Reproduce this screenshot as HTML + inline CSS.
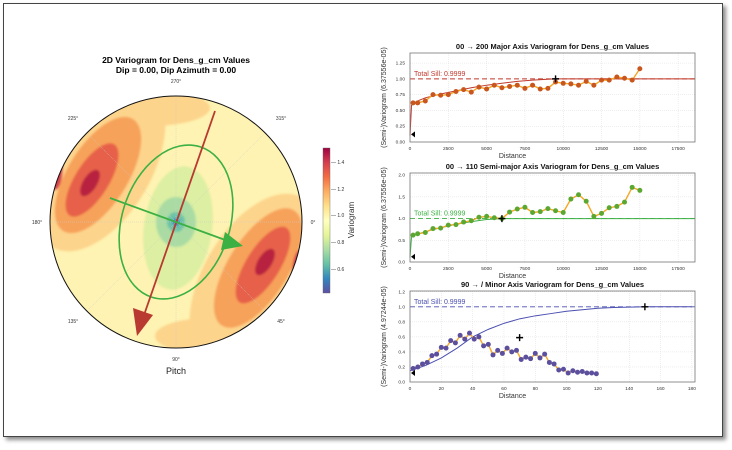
<!DOCTYPE html>
<html><head><meta charset="utf-8"><style>
html,body{margin:0;padding:0;background:#fff;}
body{width:732px;height:450px;overflow:hidden;position:relative;font-family:"Liberation Sans",sans-serif;}
#frame{position:absolute;left:3px;top:3px;width:718px;height:432px;border:1px solid #444;box-shadow:3px 3px 4px rgba(0,0,0,0.45);background:#fff;}
svg{position:absolute;left:0;top:0;}
text{font-family:"Liberation Sans",sans-serif;}
</style></head><body>
<div id="frame"></div>
<svg id="svg" width="732" height="450">
<defs>
<clipPath id="pc"><circle cx="176" cy="222" r="126"/></clipPath>
<linearGradient id="cb" x1="0" y1="1" x2="0" y2="0">
<stop offset="0" stop-color="#5e4fa2"/><stop offset="0.1" stop-color="#3288bd"/><stop offset="0.2" stop-color="#66c2a5"/><stop offset="0.3" stop-color="#abdda4"/><stop offset="0.4" stop-color="#e6f598"/><stop offset="0.5" stop-color="#ffffbf"/><stop offset="0.6" stop-color="#fee08b"/><stop offset="0.7" stop-color="#fdae61"/><stop offset="0.8" stop-color="#f46d43"/><stop offset="0.9" stop-color="#d53e4f"/><stop offset="1" stop-color="#9e0142"/>
</linearGradient>
<filter id="bl"><feGaussianBlur stdDeviation="1"/></filter>
</defs>
<g>
<text x="176" y="63" font-size="8.5" font-weight="bold" text-anchor="middle">2D Variogram for Dens_g_cm Values</text>
<text x="176" y="73" font-size="8.5" font-weight="bold" text-anchor="middle">Dip = 0.00, Dip Azimuth = 0.00</text>
<g clip-path="url(#pc)">
<rect x="40" y="90" width="280" height="270" fill="#fef3b2"/>
<g filter="url(#bl)">
<ellipse cx="100" cy="165" rx="52" ry="95" transform="rotate(30 100 165)" fill="#fdd48c"/>
<ellipse cx="255" cy="280" rx="52" ry="95" transform="rotate(30 255 280)" fill="#fdd48c"/>
<ellipse cx="150" cy="108" rx="60" ry="18" fill="#fdd48c"/>
<ellipse cx="210" cy="336" rx="55" ry="18" fill="#fdd48c"/>
<ellipse cx="98" cy="175" rx="30" ry="66" transform="rotate(32 98 175)" fill="#f7a25a"/>
<ellipse cx="258" cy="268" rx="30" ry="68" transform="rotate(32 258 268)" fill="#f7a25a"/>
<ellipse cx="92" cy="180" rx="17" ry="42" transform="rotate(32 92 180)" fill="#e7604a"/>
<ellipse cx="263" cy="265" rx="17" ry="44" transform="rotate(32 263 265)" fill="#e7604a"/>
<ellipse cx="90" cy="183" rx="7" ry="15" transform="rotate(32 90 183)" fill="#b8233f"/>
<ellipse cx="265" cy="262" rx="7" ry="15" transform="rotate(32 265 262)" fill="#b8233f"/>
<ellipse cx="55" cy="165" rx="8" ry="25" fill="#d5404d"/>
<ellipse cx="300" cy="275" rx="8" ry="25" fill="#d5404d"/>
<ellipse cx="178" cy="228" rx="34" ry="62" transform="rotate(8 178 228)" fill="#dcefa2"/>
<ellipse cx="176" cy="222" rx="20" ry="25" fill="#a9dba3"/>
<ellipse cx="176" cy="222" rx="9" ry="10" fill="#6cc3a6"/>
<ellipse cx="176" cy="222" rx="4" ry="4" fill="#3f8fc0"/>
</g>
</g>
<g stroke="#ccc" stroke-width="0.5" stroke-dasharray="1,1" fill="none">
<line x1="50" y1="222" x2="302" y2="222"/><line x1="176" y1="96" x2="176" y2="348"/>
<line x1="87" y1="133" x2="265" y2="311"/><line x1="265" y1="133" x2="87" y2="311"/>
</g>
<circle cx="176" cy="222" r="126" fill="none" stroke="#111" stroke-width="1"/>
<ellipse cx="176" cy="222" rx="54" ry="79" transform="rotate(18 176 222)" fill="none" stroke="#3cb043" stroke-width="1.6"/>
<g>
<line x1="215" y1="111" x2="143" y2="318" stroke="#b83a30" stroke-width="1.8"/>
<polygon points="137,336 133,308 153,315" fill="#b83a30"/>
</g>
<g>
<line x1="110" y1="198" x2="228" y2="241" stroke="#3cb043" stroke-width="1.8"/>
<polygon points="243,246 225,232 221,250" fill="#3cb043"/>
</g>
<g font-size="5" fill="#333" text-anchor="middle">
<text x="176" y="83">270°</text><text x="281" y="120">315°</text><text x="313" y="224">0°</text><text x="281" y="323">45°</text>
<text x="176" y="361">90°</text><text x="73" y="323">135°</text><text x="37" y="224">180°</text><text x="73" y="120">225°</text>
</g>
<text x="176" y="374" font-size="9" text-anchor="middle" fill="#222">Pitch</text>
<g>
<rect x="323" y="148" width="7" height="145" fill="url(#cb)" stroke="#666" stroke-width="0.4"/>
<g font-size="5" fill="#333">
<text x="331" y="164">— 1.4</text><text x="331" y="191">— 1.2</text><text x="331" y="217">— 1.0</text><text x="331" y="244">— 0.8</text><text x="331" y="271">— 0.6</text>
</g>
<text x="354" y="220" font-size="8" fill="#333" text-anchor="middle" transform="rotate(-90 354 220)">Variogram</text>
</g>
</g>
<g id="charts"></g>
</svg>
<script>
// ---- Major axis chart data ----
const majDist=[200,500,1000,1500,2000,2500,3000,3500,4000,4500,5000,5500,6000,6500,7000,7500,8000,8500,9000,9500,10000,10500,11000,11500,12000,12500,13000,13500,14000,14500,15000];
const majVal=[0.62,0.62,0.65,0.75,0.74,0.75,0.8,0.83,0.79,0.87,0.84,0.9,0.86,0.88,0.9,0.85,0.9,0.84,0.85,0.95,0.93,0.92,0.9,0.96,0.9,0.98,0.98,1.03,1.01,0.98,1.16];
const majModelDist=[0,100,300,600,1000,2000,3000,4000,5000,6000,7000,8000,9000,9500,12000,18600];
const majModelVal=[0.1,0.58,0.62,0.66,0.7,0.76,0.81,0.86,0.9,0.93,0.96,0.98,0.995,1.0,1.0,1.0];
const majXTicks=[0,2500,5000,7500,10000,12500,15000,17500];
const majYTicks=[0,0.25,0.5,0.75,1.0,1.25];
// ---- Semi-major chart data ----
const semDist=[200,500,1000,1500,2000,2500,3000,3500,4000,4500,5000,5500,6000,6500,7000,7500,8000,8500,9000,9500,10000,10500,11000,11500,12000,12500,13000,13500,14000,14500,15000];
const semVal=[0.62,0.65,0.68,0.77,0.78,0.85,0.86,0.92,0.95,1.03,1.05,1.02,1.0,1.15,1.22,1.26,1.14,1.16,1.23,1.18,1.14,1.45,1.55,1.4,1.05,1.12,1.25,1.28,1.38,1.72,1.65];
const semModelDist=[0,100,300,1000,2000,3000,4000,5000,6000,18600];
const semModelVal=[0.1,0.58,0.62,0.7,0.79,0.87,0.93,0.98,1.0,1.0];
const semXTicks=[0,2500,5000,7500,10000,12500,15000,17500];
const semYTicks=[0,0.5,1.0,1.5,2.0];
// ---- Minor chart data ----
const minDist=[2,5,8,11,14,17,20,23,26,29,32,35,38,41,44,47,50,53,56,59,62,65,68,71,74,77,80,83,86,89,92,95,98,101,104,107,110,113,116,119];
const minVal=[0.18,0.2,0.24,0.26,0.35,0.37,0.46,0.45,0.55,0.52,0.62,0.57,0.65,0.57,0.6,0.48,0.5,0.36,0.42,0.38,0.45,0.4,0.42,0.3,0.33,0.31,0.38,0.32,0.37,0.26,0.24,0.16,0.17,0.12,0.15,0.13,0.14,0.12,0.12,0.11];
const minModelDist=[0,10,20,30,40,50,60,70,80,90,100,110,120,130,140,150,180];
const minModelVal=[0.15,0.22,0.32,0.45,0.6,0.7,0.78,0.84,0.88,0.91,0.94,0.96,0.98,0.99,0.995,1.0,1.0];
const minXTicks=[0,20,40,60,80,100,120,140,160,180];
const minYTicks=[0,0.2,0.4,0.6,0.8,1.0,1.2];

const NS='http://www.w3.org/2000/svg';
const root=document.getElementById('charts');
function mk(tag,attrs,parent){const e=document.createElementNS(NS,tag);for(const k in attrs)e.setAttribute(k,attrs[k]);(parent||root).appendChild(e);return e;}

function chart(c){
  const g=mk('g',{});
  
  
  const sx=v=>c.x0+(v-c.xmin)/(c.xmax-c.xmin)*(c.x1-c.x0);
  const sy=v=>c.y1-(v-c.ymin)/(c.ymax-c.ymin)*(c.y1-c.y0);
  mk('rect',{x:c.x0,y:c.y0,width:c.x1-c.x0,height:c.y1-c.y0,fill:'#fff'},g);
  c.xt.forEach(t=>{
    mk('line',{x1:sx(t),x2:sx(t),y1:c.y0,y2:c.y1,stroke:'#ddd','stroke-width':0.5,'stroke-dasharray':'1,1'},g);
    const tx=mk('text',{x:sx(t),y:c.y1+8,'font-size':4.8,'text-anchor':'middle',fill:'#333'},g);tx.textContent=t;
    
    
  });
  c.yt.forEach(t=>{
    mk('line',{x1:c.x0,x2:c.x1,y1:sy(t),y2:sy(t),stroke:'#ddd','stroke-width':0.5,'stroke-dasharray':'1,1'},g);
    const ty=mk('text',{x:c.x0-5,y:sy(t)+1.5,'font-size':4.8,'text-anchor':'end',fill:'#333'},g);ty.textContent=t.toFixed(c.dec);
    
    
  });
  const sill=mk('line',{x1:c.x0,x2:c.x1,y1:sy(1),y2:sy(1),stroke:c.mc,'stroke-width':0.9,'stroke-dasharray':'5,3'},g);
  
  
  const st=mk('text',{x:c.x0+4,y:sy(1)-3,'font-size':7,fill:c.mc},g);st.textContent='Total Sill: 0.9999';
  
  
  const mp=mk('polyline',{points:c.md.map((d,i)=>sx(d)+','+sy(c.mv[i])).join(' '),fill:'none',stroke:c.mc,'stroke-width':1},g);
  
  
  const ep=mk('polyline',{points:c.d.map((d,i)=>sx(d)+','+sy(c.v[i])).join(' '),fill:'none',stroke:'#f5a623','stroke-width':1.4},g);
  
  
  c.d.forEach((d,i)=>{
    const p=mk('circle',{cx:sx(d),cy:sy(c.v[i]),r:2.5,fill:c.pc},g);
    
    
  });
  c.cross.forEach(cr=>{
    const x=sx(cr[0]),y=sy(cr[1]);
    const cp=mk('path',{d:`M${x-3.5},${y}H${x+3.5}M${x},${y-3.5}V${y+3.5}`,stroke:'#000','stroke-width':1.4},g);
    
    
  });
  const tri=mk('polygon',{points:`${c.x0+1},${sy(0.12)} ${c.x0+5},${sy(0.12)-3} ${c.x0+5},${sy(0.12)+3}`,fill:'#000'},g);
  
  
  mk('rect',{x:c.x0,y:c.y0,width:c.x1-c.x0,height:c.y1-c.y0,fill:'none',stroke:'#777','stroke-width':0.8},g);
  const tt=mk('text',{x:(c.x0+c.x1)/2,y:c.y0-4,'font-size':7.5,'font-weight':'bold','text-anchor':'middle',fill:'#111'},g);tt.textContent=c.title;
  
  
  const yl=mk('text',{x:c.x0-24,y:(c.y0+c.y1)/2,'font-size':7,'text-anchor':'middle',fill:'#333',transform:`rotate(-90 ${c.x0-24} ${(c.y0+c.y1)/2})`},g);yl.textContent=c.ylab;
  
  
  const xl=mk('text',{x:(c.x0+c.x1)/2-40,y:c.y1+16,'font-size':7,'text-anchor':'middle',fill:'#333'},g);xl.textContent='Distance';
  
  
}
chart({name:'major-axis-chart',x0:410,x1:695,y0:53,y1:142,xmin:0,xmax:18600,ymin:0,ymax:1.41,xt:majXTicks,yt:majYTicks,dec:2,d:majDist,v:majVal,md:majModelDist,mv:majModelVal,mc:'#c0392b',pc:'#c8561e',cross:[[9500,1.0]],title:'00 \u2192 200 Major Axis Variogram for Dens_g_cm Values',ylab:'(Semi-)Variogram (6.37556e-05)'});
chart({name:'semi-major-axis-chart',x0:410,x1:695,y0:173,y1:262,xmin:0,xmax:18600,ymin:0,ymax:2.05,xt:semXTicks,yt:semYTicks,dec:1,d:semDist,v:semVal,md:semModelDist,mv:semModelVal,mc:'#3cb043',pc:'#5aa832',cross:[[6000,1.0]],title:'00 \u2192 110 Semi-major Axis Variogram for Dens_g_cm Values',ylab:'(Semi-)Variogram (6.37556e-05)'});
chart({name:'minor-axis-chart',x0:410,x1:695,y0:291,y1:382,xmin:0,xmax:182,ymin:0,ymax:1.21,xt:minXTicks,yt:minYTicks,dec:1,d:minDist,v:minVal,md:minModelDist,mv:minModelVal,mc:'#4b4fb0',pc:'#5b4f9e',cross:[[70,0.59],[150,1.0]],title:'90 \u2192 / Minor Axis Variogram for Dens_g_cm Values',ylab:'(Semi-)Variogram (4.97244e-05)'});
</script>
</body></html>
